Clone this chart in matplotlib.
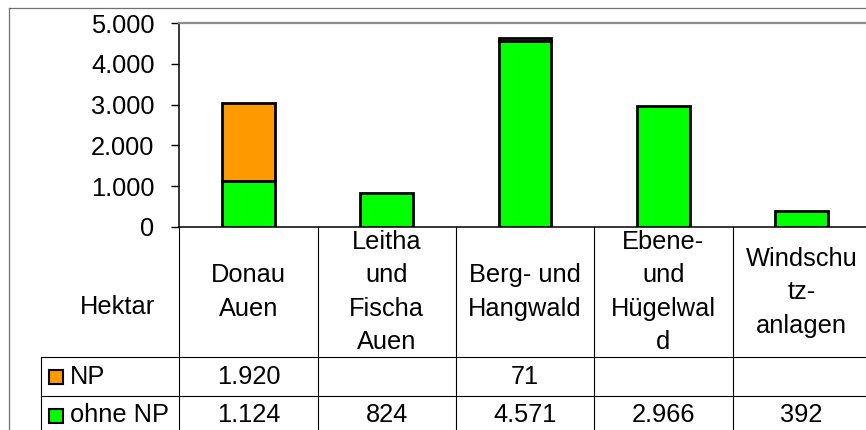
import matplotlib
matplotlib.use("Agg")
import matplotlib.pyplot as plt
import matplotlib.transforms as mtransforms
from matplotlib.lines import Line2D
from matplotlib.ticker import FuncFormatter
import numpy as np

plt.rcParams['font.family'] = ['Liberation Sans', 'DejaVu Sans']

# data (Hektar)
categories = ["Donau\nAuen", "Leitha\nund\nFischa\nAuen", "Berg- und\nHangwald",
              "Ebene-\nund\nHügelwal\nd", "Windschu\ntz-\nanlagen"]
np_ha = [1920, None, 71, None, None]
ohne_np_ha = [1124, 824, 4571, 2966, 392]
series_names = ["NP", "ohne NP"]
series_colors = ["#ff9900", "#00ff00"]
row_label = "Hektar"
yticks = [0, 1000, 2000, 3000, 4000, 5000]

W, H = 866, 430
FS = 18.3


def fx(px):
    return px / W


def fy(px):
    return 1 - px / H


def de(v):
    return f"{int(v):,}".replace(",", ".")


fig = plt.figure(figsize=(W / 100, H / 100), dpi=100)
col_w = 138.3
x0 = 179.3
ax = fig.add_axes([fx(x0), fy(226.7), fx(5 * col_w), (226.7 - 23.3) / H])

x = np.arange(len(categories)) + 0.5
ax.bar(x, ohne_np_ha, width=0.38, color=series_colors[1], edgecolor='black', linewidth=2, zorder=3)
for xi, v, b in zip(x, np_ha, ohne_np_ha):
    if v is not None:
        ax.bar(xi, v, bottom=b, width=0.38, color=series_colors[0], edgecolor='black',
               linewidth=2, zorder=3)

ax.set_xlim(0, len(categories))
ax.set_ylim(0, 5000)
ax.set_yticks(yticks)
ax.yaxis.set_major_formatter(FuncFormatter(lambda v, p: de(v)))
ax.set_xticks([])
ax.tick_params(axis='y', length=5.8, width=1, pad=12, labelsize=FS, colors='black')
for s in ['left', 'bottom']:
    ax.spines[s].set_color('black')
    ax.spines[s].set_linewidth(1.1)
ax.spines['top'].set_color('#8c8c8c')
ax.spines['top'].set_linewidth(1.6)
ax.spines['right'].set_visible(False)

# data table below the plot
trans = mtransforms.blended_transform_factory(ax.transData, fig.transFigure)
lkw = dict(color='black', lw=0.8, transform=trans, clip_on=False)
for k in range(len(categories) + 1):
    ax.plot([k, k], [fy(226.7), fy(440)], **lkw)
ax.plot([-1, -1], [fy(357), fy(440)], **lkw)
for yy in [357, 396]:
    ax.plot([-1, len(categories)], [fy(yy), fy(yy)], **lkw)

for xi, cat in zip(x, categories):
    ax.text(xi, fy(292), cat, ha='center', va='center', multialignment='center',
            fontsize=FS, linespacing=1.5, transform=trans)

ax.text(-0.176, fy(307), row_label, ha='right', va='center', fontsize=FS, transform=trans)

row_vals = [np_ha, ohne_np_ha]
row_centers = [376.5, 415.5]
for name, col, vals, yc in zip(series_names, series_colors, row_vals, row_centers):
    ax.plot([-0.895], [fy(yc)], marker='s', ms=10.5, mfc=col, mec='black', mew=1.5,
            transform=trans, clip_on=False)
    ax.text(-0.79, fy(yc), name, ha='left', va='center', fontsize=FS, transform=trans)
    for xi, v in zip(x, vals):
        if v is not None:
            ax.text(xi, fy(yc), de(v), ha='center', va='center', fontsize=FS, transform=trans)

# outer chart border
fig.add_artist(Line2D([fx(9), fx(9)], [fy(8), 0], color='#707070', lw=0.9))
fig.add_artist(Line2D([fx(9), 1], [fy(8), fy(8)], color='#707070', lw=0.9))

fig.savefig("out.png", dpi=100)
